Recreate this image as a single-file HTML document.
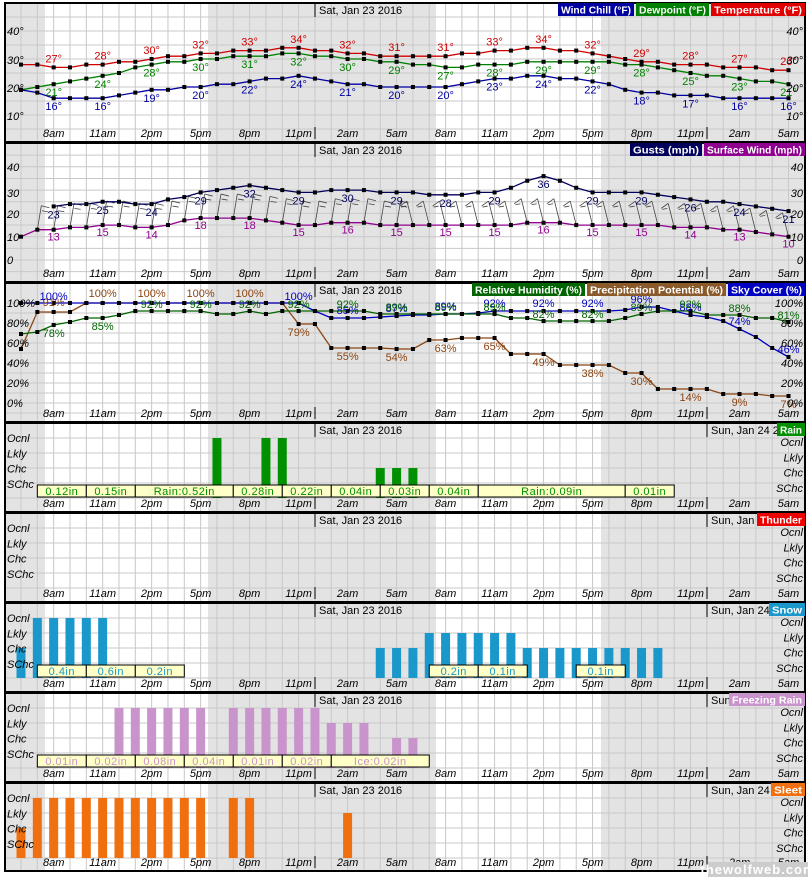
<!DOCTYPE html>
<html><head><meta charset="utf-8"><style>
html,body{margin:0;padding:0;background:#fff;}
svg{display:block;font-family:"Liberation Sans",sans-serif;}
</style></head><body>
<svg id="s" width="808" height="877" xmlns="http://www.w3.org/2000/svg"></svg>
<script>
const S=document.getElementById('s');let h='';
const X=i=>21+i*16.33;
const L=5,R=805;
const tops=[3,143,283,423,513,603,693,783],bots=[142,282,422,512,602,692,782,871];
function r(x,y,w,hh,f,extra){h+=`<rect x="${x}" y="${y}" width="${w}" height="${hh}" fill="${f}" ${extra||''}/>`;}
function ln(x1,y1,x2,y2,c,w){h+=`<line x1="${x1}" y1="${y1}" x2="${x2}" y2="${y2}" stroke="${c}" stroke-width="${w||1}"/>`;}
function t(x,y,s,c,sz,anc,st){h+=`<text x="${x}" y="${y}" fill="${c||'#000'}" font-size="${sz||11}" text-anchor="${anc||'start'}" ${st||''}>${s}</text>`;}
function interp(first,labs){const a=first.slice();for(let k=0;k<labs.length;k++){const i=2+3*k;a[i]=labs[k];}
 for(let k=0;k<labs.length-1;k++){const i=2+3*k,v0=labs[k],v1=labs[k+1];a[i+1]=Math.round(v0+(v1-v0)/3);a[i+2]=Math.round(v0+2*(v1-v0)/3);}return a;}
const times=['8am','11am','2pm','5pm','8pm','11pm','2am','5am','8am','11am','2pm','5pm','8pm','11pm','2am','5am'];
for(let p=0;p<8;p++){
 const T=tops[p],B=bots[p];
 r(L,T,R-L,B-T,'#fff');
 r(L,T,40,B-T,'#e3e3e3');r(208,T,228,B-T,'#e3e3e3');r(601,T,R-601,B-T,'#e3e3e3');
 for(let i=0;i<48;i++)ln(X(i),T,X(i),B,'#c8c8c8');
 let ys=[];
 if(p==0){for(let v=5;v<=45;v+=5)ys.push(143-2.8*v);}
 else if(p==1){for(let v=-5;v<=45;v+=5)ys.push(260-2.33*v);}
 else if(p==2){for(let v=-10;v<=100;v+=10)ys.push(403-v);}
 else{for(let k=1;k<=5;k++)ys.push(T+k*15);}
 ys.forEach(y=>{if(y>T+2&&y<B-2)ln(L,y,R,y,'#c8c8c8');});
 times.forEach((s,k)=>t(X(2+3*k),B-5,s,'#000',11,'middle','font-style="italic"'));
 ln(315,B-15,315,B-3,'#000');ln(707,B-15,707,B-3,'#000');
 ln(315,T+1,315,T+14,'#000');
 t(319,T+11,'Sat, Jan 23 2016','#000',11);
 if(p>=3){ln(707,T+1,707,T+14,'#000');t(711,T+11,'Sun, Jan 24 2016','#000',11);}
}
h+=`<rect x="${L}" y="3" width="${R-L}" height="868" fill="none" stroke="#000" stroke-width="2"/>`;
[142,282,422,512,602,692,782].forEach(y=>r(L,y-1,R-L,3,'#000'));
function legend(items,T){let x=R;for(let k=items.length-1;k>=0;k--){const [s,c,w]=items[k];x-=w;r(x,T,w,13,c);t(x+w/2,T+10.5,s,'#fff',10.5,'middle',`font-weight="bold" textLength="${w-6}" lengthAdjust="spacingAndGlyphs"`);x-=2;}}
// Panel 1
const temp=interp([28,28],[27,28,30,32,33,34,32,31,31,33,34,32,29,28,27,26]);
const dew=interp([19,20],[21,24,28,30,31,32,30,29,27,28,29,29,28,25,23,21]);
const chill=interp([19,18],[16,16,19,20,22,24,21,20,20,23,24,22,18,17,16,16]);
function series(d,yf,c,lab,dy){let pts=d.map((v,i)=>X(i).toFixed(1)+','+yf(v).toFixed(1)).join(' ');
 h+=`<polyline points="${pts}" fill="none" stroke="${c}" stroke-width="1.3"/>`;
 d.forEach((v,i)=>r(X(i)-2,yf(v)-2,4,4,'#000'));
 if(lab)d.forEach((v,i)=>{if(i%3==2)t(X(i),yf(v)+dy,v+lab,c,11,'middle');});}
const y1=v=>143-2.8*v;
series(temp,y1,'#d00000','°',-5);series(dew,y1,'#008000','°',12);series(chill,y1,'#0000a0','°',12);
[[40,31],[30,60],[20,88],[10,116]].forEach(([v,y])=>{t(7,y+4,v+'°','#000',11,'start','font-style="italic"');t(803,y+4,v+'°','#000',11,'end','font-style="italic"');});
legend([['Wind Chill (°F)','#0000a0',76],['Dewpoint (°F)','#008000',73],['Temperature (°F)','#e00000',94]],3);
// Panel 2
const y2=v=>260-2.33*v;
const gust=interp([null,null],[23,25,24,29,32,29,30,29,28,29,36,29,29,26,24,21]);
const wind=interp([10,13],[13,15,14,18,18,15,16,15,15,15,16,15,15,14,13,10]);
wind.forEach((v,i)=>{if(i==0)return;const x=X(i),y=y2(v);const dx=(i<24?4:-6),x2=x+dx,yy=y-24;ln(x,y,x2,yy,'#444',0.8);ln(x2,yy,x2+(i<24?8:-7),yy+(i<24?2:5),'#444',0.8);ln(x2+dx*0.15,yy+5,x2+dx*0.15+(i<24?6:-5),yy+6,'#444',0.8);});
{let pts=[];gust.forEach((v,i)=>{if(v!=null)pts.push(X(i).toFixed(1)+','+y2(v).toFixed(1));});h+=`<polyline points="${pts.join(' ')}" fill="none" stroke="#00005a" stroke-width="1.3"/>`;gust.forEach((v,i)=>{if(v!=null){r(X(i)-2,y2(v)-2,4,4,'#000');if(i%3==2)t(X(i),y2(v)+12,v,'#00005a',11,'middle');}});}
series(wind,y2,'#900090','',0);wind.forEach((v,i)=>{if(i%3==2)t(X(i),y2(v)+11,v,'#900090',11,'middle');});
[[40,167],[30,193],[20,214],[10,237],[0,260]].forEach(([v,y])=>{t(7,y+4,v,'#000',11,'start','font-style="italic"');t(803,y+4,v,'#000',11,'end','font-style="italic"');});
legend([['Gusts (mph)','#00005a',72],['Surface Wind (mph)','#900090',101]],143);
// Panel 3
const y3=v=>403-v;
const rh=[69,71,78,81,85,85,88,92,92,92,92,92,89,89,92,89,92,92,92,92,92,92,89,89,89,89,89,89,89,89,85,85,82,82,82,82,82,85,89,92,92,92,88,88,88,85,85,81];
const pp=[54,91,91,91,100,100,100,100,100,100,100,100,100,100,100,100,100,79,79,55,55,55,55,54,54,63,63,65,65,65,49,49,49,38,38,38,38,30,30,14,14,14,14,9,9,9,7,7];
const sky=[100,100,100,100,100,100,100,100,100,100,100,100,100,100,100,100,100,100,92,85,85,85,86,87,88,88,89,89,90,92,92,92,92,92,92,92,92,93,96,96,92,88,86,82,74,66,55,46];
series(pp,y3,'#8b4513','',0);series(sky,y3,'#0000c0','',0);series(rh,y3,'#006400','',0);
pp.forEach((v,i)=>{if(i%3==2)t(X(i),y3(v)+(i<17?-6:12),v+'%','#8b4513',11,'middle');});
sky.forEach((v,i)=>{if(i%3==2&&(i>17))t(X(i),y3(v)-4,v+'%','#0000c0',11,'middle');});
t(X(2),300,'100%','#0000c0',11,'middle');t(X(17),300,'100%','#0000c0',11,'middle');
rh.forEach((v,i)=>{if(i%3==2)t(X(i),y3(v)+(i<6?12:-3),v+'%','#006400',11,'middle');});
[[100,303],[80,323],[60,343],[40,363],[20,383],[0,403]].forEach(([v,y])=>{t(7,y+4,v+'%','#000',11,'start','font-style="italic"');t(803,y+4,v+'%','#000',11,'end','font-style="italic"');});
legend([['Relative Humidity (%)','#006400',113],['Precipitation Potential (%)','#8b5a2b',139],['Sky Cover (%)','#0000c0',77]],283);
// precip panels
const lv={O:15,L:30,C:45};
function bars(T,spec,c){spec.forEach(([a,b,l])=>{for(let i=a;i<=b;i++)r(X(i)-4.5,T+lv[l],9,75-lv[l],c);});}
function boxes(T,list,c){list.forEach(([a,b,s])=>{r(X(a),T+62,X(b)-X(a),12,'#ffffc8','stroke="#000" stroke-width="1"');t((X(a)+X(b))/2,T+72,s,c,11,'middle','letter-spacing="0.5"');});}
function plabels(T){['Ocnl','Lkly','Chc','SChc'].forEach((s,k)=>{t(7,T+19+k*15.3,s,'#000',11,'start','font-style="italic"');t(803,T+23+k*15.3,s,'#000',11,'end','font-style="italic"');});}
bars(423,[[12,12,'O'],[15,16,'O'],[22,24,'C']],'#009000');
boxes(423,[[1,4,'0.12in'],[4,7,'0.15in'],[7,13,'Rain:0.52in'],[13,16,'0.28in'],[16,19,'0.22in'],[19,22,'0.04in'],[22,25,'0.03in'],[25,28,'0.04in'],[28,37,'Rain:0.09in'],[37,40,'0.01in']],'#009000');
plabels(423);legend([['Rain','#009000',28]],423);
plabels(513);legend([['Thunder','#ee0000',48]],513);
bars(603,[[0,0,'C'],[1,5,'O'],[22,24,'C'],[25,30,'L'],[31,39,'C']],'#1a98cc');
boxes(603,[[1,4,'0.4in'],[4,7,'0.6in'],[7,10,'0.2in'],[25,28,'0.2in'],[28,31,'0.1in'],[34,37,'0.1in']],'#1a98cc');
plabels(603);legend([['Snow','#1a98cc',36]],603);
bars(693,[[6,11,'O'],[13,18,'O'],[19,21,'L'],[23,24,'C']],'#c994cc');
boxes(693,[[1,4,'0.01in'],[4,7,'0.02in'],[7,10,'0.08in'],[10,13,'0.04in'],[13,16,'0.01in'],[16,19,'0.02in'],[19,25,'Ice:0.02in']],'#c994cc');
plabels(693);legend([['Freezing Rain','#c994cc',76]],693);
bars(783,[[0,0,'C'],[1,11,'O'],[13,14,'O'],[20,20,'L']],'#f07010');
plabels(783);legend([['Sleet','#f07010',34]],783);
r(708,862,100,15,'#ccc');t(758,874,'thewolfweb.com','#fff',13,'middle','font-weight="bold" letter-spacing="1"');
S.innerHTML=h;
</script>
</body></html>
